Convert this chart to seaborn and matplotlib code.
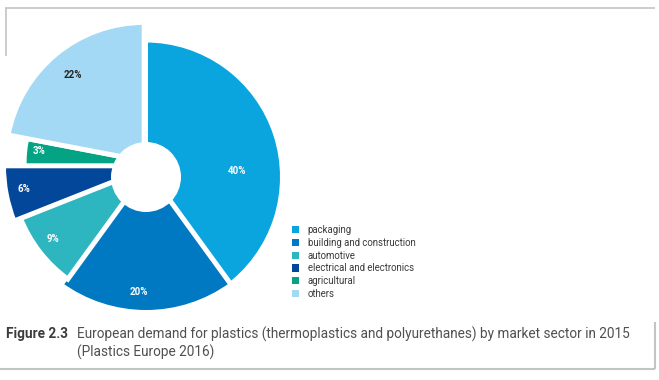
import numpy as np
import matplotlib
matplotlib.use('Agg')
import matplotlib.pyplot as plt
import seaborn as sns
from matplotlib.patches import Patch, Circle

# ---- data ----
categories = ['packaging', 'building and construction', 'automotive',
              'electrical and electronics', 'agricultural', 'others']
shares = [40, 20, 9, 6, 3, 22]
pct_labels = ['40%', '20%', '9%', '6%', '3%', '22%']
caption_num = 'Figure 2.3'
caption_lines = ['European demand for plastics (thermoplastics and polyurethanes) by market sector in 2015',
                 '(Plastics Europe 2016)']

# ---- styling ----
colors = ['#0AA5DF', '#0079C2', '#2DB6C0', '#03479B', '#04A383', '#A4D9F5']
label_colors = ['white', 'white', 'white', 'white', 'white', '#222222']
wedge_shift = [(0.5, -11), (1, -1.5), (4.5, -0.7), (8.5, 0.2), (-1.4, 2.7), (-0.8, 5)]
wedge_radius = [137, 145, 139, 150, 117, 138.6]
wedge_edge = [3.6, 3.6, 3.6, 3.6, 0.0, 3.6]
label_frac = [0.667, 0.86, 0.87, 0.88, 0.9, 0.805]
label_turn = [-14, -3.5, -1, -0.6, -1.4, 0.2]

W, H = 659, 380
sns.set_theme(style='white')
plt.rcParams['font.family'] = ['Roboto', 'DejaVu Sans']

fig = plt.figure(figsize=(W / 100, H / 100), dpi=100)
ax = fig.add_axes([0, 0, 1, 1])
C = (145, H - 166)
wedges, _ = ax.pie(shares, colors=colors, startangle=90, counterclock=False,
                   center=C, radius=1,
                   wedgeprops=dict(edgecolor='white', linewidth=3.6))
for w, (dx, dy), r, lw, f, t, lab, lc in zip(wedges, wedge_shift, wedge_radius, wedge_edge,
                                              label_frac, label_turn, pct_labels, label_colors):
    cx, cy = C[0] + dx, C[1] + dy
    w.set_center((cx, cy))
    w.set_radius(r)
    w.set_linewidth(lw)
    mid = np.deg2rad((w.theta1 + w.theta2) / 2 + t)
    ax.text(cx + f * r * np.cos(mid), cy + f * r * np.sin(mid), lab,
            color=lc, fontsize=7, fontweight='bold', ha='center', va='center', zorder=5)

ax.add_patch(Circle((146, H - 177), 35, facecolor='white', edgecolor='none', zorder=3))

handles = [Patch(facecolor=c, edgecolor='none') for c in colors]
ax.legend(handles, categories, loc='upper left', bbox_to_anchor=(291.5 / W, 1 - 225 / H),
          frameon=False, fontsize=6.9, handlelength=0.75, handleheight=0.75,
          handletextpad=0.95, labelspacing=0.29, borderpad=0, borderaxespad=0,
          labelcolor='#3a3a3a')

# frame lines
fc = '#c4c4c4'
ax.plot([5, 655], [H - 7.5, H - 7.5], color=fc, lw=1.2, solid_capstyle='butt')
ax.plot([6, 6], [H - 7.5, H - 56], color=fc, lw=1.2, solid_capstyle='butt')
ax.plot([0, 655], [H - 369, H - 369], color=fc, lw=1.5, solid_capstyle='butt')
ax.plot([655, 655], [H - 322, H - 369], color=fc, lw=1.5, solid_capstyle='butt')

# caption
ax.text(6, H - 334, caption_num, fontsize=9.8, fontweight='bold', color='#3c3c3c',
        ha='left', va='center')
ax.text(77, H - 334, caption_lines[0], fontsize=9.8, color='#505050', ha='left', va='center')
ax.text(77, H - 352, caption_lines[1], fontsize=9.8, color='#505050', ha='left', va='center')

ax.set_xlim(0, W)
ax.set_ylim(0, H)
ax.set_aspect('auto')
ax.axis('off')
fig.savefig('out.png', dpi=100)
